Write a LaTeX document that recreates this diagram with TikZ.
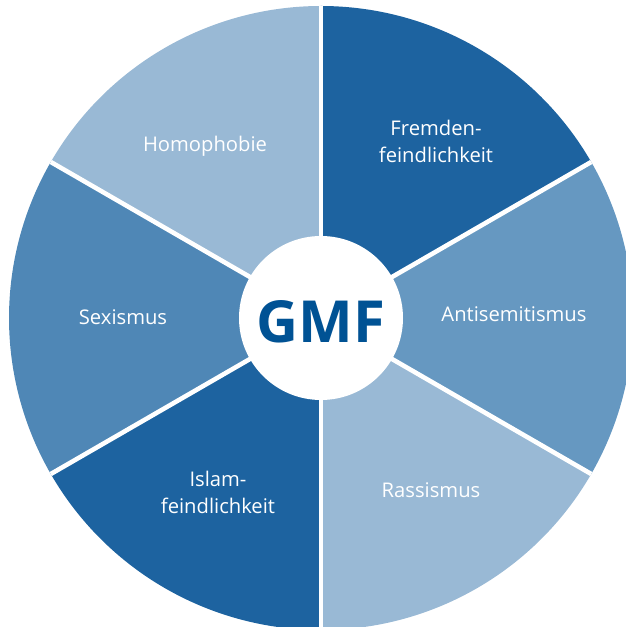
\documentclass[tikz,border=0pt]{standalone}
\usepackage{fontspec}
\setmainfont{Open Sans}
\usepackage{tikz}
\definecolor{gmfdark}{RGB}{29,99,160}
\definecolor{gmfmid}{RGB}{79,135,182}
\definecolor{gmfsoft}{RGB}{102,152,193}
\definecolor{gmflight}{RGB}{153,185,213}
\definecolor{gmftext}{RGB}{0,82,148}
\tikzset{
  seglabel/.style={font=\fontsize{11.5}{15.3}\selectfont,white,align=center},
  seam/.style={white,line width=2.6pt}
}

\begin{document}
\begin{tikzpicture}
  \useasboundingbox (-6.42,-6.18) rectangle (6.08,6.36);
  % sectors
  \fill[gmfdark]  (0,0) -- (90:6.24) arc (90:30:6.24) -- cycle;
  \fill[gmfsoft]  (0,0) -- (30:6.24) arc (30:-30:6.24) -- cycle;
  \fill[gmflight] (0,0) -- (-30:6.24) arc (-30:-90:6.24) -- cycle;
  \fill[gmfdark]  (0,0) -- (-90:6.24) arc (-90:-150:6.24) -- cycle;
  \fill[gmfmid]   (0,0) -- (-150:6.24) arc (-150:-210:6.24) -- cycle;
  \fill[gmflight] (0,0) -- (150:6.24) arc (150:90:6.24) -- cycle;
  % seams
  \draw[seam] (0,0) -- (90:6.24);
  \draw[seam] (0,0) -- (30:6.24);
  \draw[seam] (0,0) -- (-30:6.24);
  \draw[seam] (0,0) -- (-90:6.24);
  \draw[seam] (0,0) -- (-150:6.24);
  \draw[seam] (0,0) -- (150:6.24);
  % centre
  \node[circle,fill=white,minimum size=3.28cm,inner sep=0pt] (gmf) at (0,0) {};
  \node[font=\fontsize{33}{33}\selectfont\bfseries,gmftext] (gmftitle) at (0,-0.08) {GMF};
  % labels
  \node[seglabel] (fremd) at (2.30,3.54) {Fremden-\\feindlichkeit};
  \node[seglabel] (antisem) at (3.86,0.08) {Antisemitismus};
  \node[seglabel] (rass) at (2.20,-3.44) {Rassismus};
  \node[seglabel] (islam) at (-2.06,-3.48) {Islam-\\feindlichkeit};
  \node[seglabel] (sex) at (-3.96,0.02) {Sexismus};
  \node[seglabel] (homo) at (-2.32,3.44) {Homophobie};
\end{tikzpicture}
\end{document}
